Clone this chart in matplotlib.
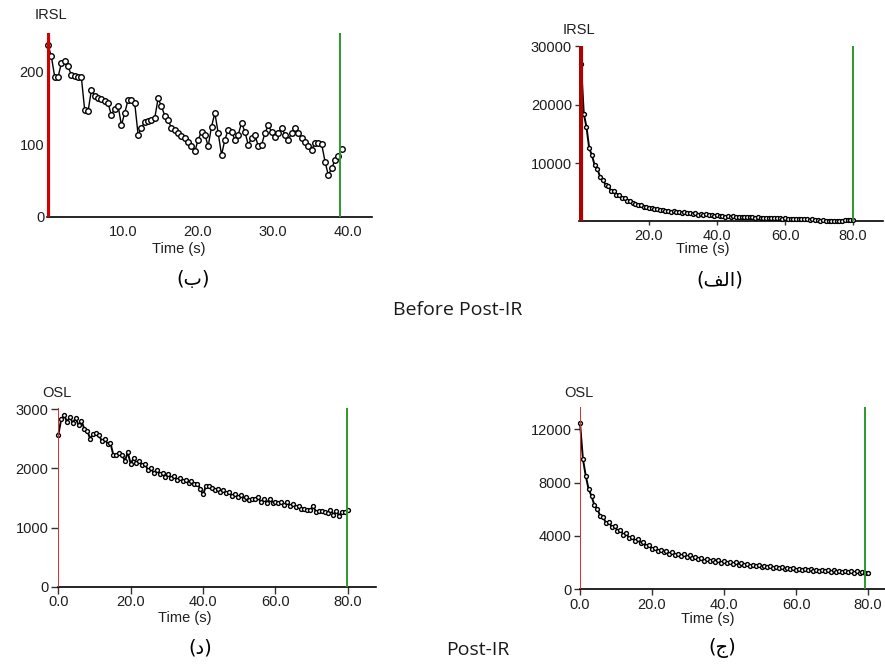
import matplotlib
matplotlib.use("Agg")
import matplotlib.pyplot as plt
import numpy as np

plt.rcParams["font.family"] = ["Liberation Sans", "DejaVu Sans"]

# IRSL before post-IR, short shine (b)
t_step_b = 0.445
irsl_b = [237, 221, 193, 192, 211, 215, 207, 195, 194, 193,
          192, 147, 145, 174, 166, 163, 162, 160, 156, 140,
          149, 153, 126, 143, 161, 161, 156, 113, 122, 131,
          132, 133, 136, 163, 152, 139, 133, 122, 120, 115,
          111, 109, 103, 97, 90, 106, 117, 113, 97, 124,
          143, 115, 85, 106, 120, 117, 106, 113, 129, 117,
          99, 108, 113, 97, 99, 115, 126, 117, 110, 115,
          122, 113, 106, 115, 122, 115, 108, 103, 97, 92,
          102, 101, 100, 76, 57, 67, 78, 83, 93]

# long shines, 0.8 s channels
t_step = 0.8
irsl_a = [27000, 18500, 16200, 12600, 11400, 9700, 9100, 7700, 7200, 6400,
          6200, 5350, 5250, 4650, 4700, 4050, 4050, 3550, 3550, 3250,
          3150, 2850, 2850, 2600, 2600, 2450, 2450, 2200, 2250, 2100,
          2100, 1950, 1950, 1800, 1850, 1650, 1800, 1600, 1650, 1550,
          1550, 1400, 1500, 1300, 1450, 1250, 1350, 1180, 1250, 1100,
          1200, 1000, 1120, 950, 1050, 900, 1000, 860, 950, 830,
          900, 950, 830, 880, 760, 820, 740, 780, 700, 740,
          660, 720, 630, 680, 590, 650, 560, 610, 540, 580,
          500, 560, 470, 540, 450, 480, 360, 360, 280, 300,
          240, 270, 230, 260, 250, 280, 260, 320, 290, 350,
          380]

osl_d = [2570, 2830, 2900, 2790, 2870, 2770, 2850, 2730, 2800, 2670,
         2640, 2500, 2580, 2600, 2560, 2470, 2500, 2420, 2430, 2230,
         2220, 2260, 2230, 2130, 2270, 2080, 2170, 2100, 2120, 2050,
         2070, 1970, 2000, 1920, 1980, 1900, 1920, 1850, 1900, 1830,
         1880, 1810, 1830, 1780, 1810, 1760, 1780, 1730, 1740, 1660,
         1560, 1700, 1700, 1670, 1640, 1660, 1600, 1630, 1580, 1600,
         1540, 1570, 1520, 1550, 1480, 1510, 1460, 1490, 1480, 1510,
         1430, 1490, 1420, 1480, 1410, 1440, 1420, 1430, 1380, 1440,
         1370, 1400, 1350, 1370, 1310, 1320, 1300, 1300, 1360, 1270,
         1280, 1280, 1270, 1250, 1300, 1220, 1280, 1200, 1270, 1260,
         1300]

osl_c = [12500, 9800, 8500, 7500, 7000, 6300, 6050, 5500, 5400, 5000,
         5050, 4700, 4750, 4400, 4480, 4100, 4200, 3850, 3950, 3650,
         3750, 3450, 3550, 3220, 3300, 3000, 3100, 2880, 2980, 2780,
         2880, 2680, 2780, 2600, 2680, 2520, 2620, 2430, 2540, 2350,
         2420, 2250, 2330, 2150, 2280, 2100, 2230, 2050, 2180, 2000,
         2120, 1950, 2060, 1900, 2020, 1850, 1950, 1800, 1920, 1760,
         1860, 1720, 1820, 1700, 1780, 1650, 1750, 1610, 1700, 1580,
         1660, 1530, 1630, 1500, 1600, 1480, 1560, 1440, 1530, 1420,
         1500, 1400, 1480, 1370, 1460, 1350, 1440, 1320, 1420, 1300,
         1400, 1280, 1380, 1270, 1360, 1250, 1340, 1230, 1320, 1220,
         1250]

# signal / background limits (s)
green_at = {"b": 39.0, "a": 80.0, "d": 79.7, "c": 79.2}

W, H = 885, 668
fig = plt.figure(figsize=(W / 100, H / 100), dpi=100)


def box(l, t, r, b):
    return [l / W, 1 - b / H, (r - l) / W, (b - t) / H]


def ptext(x, y, s, **kw):
    fig.text(x / W, 1 - y / H, s, ha="center", va="center", **kw)


tick_font = dict(family="Liberation Sans", size=10.5, color="#1e1e1e")


def panel(rect, t, y, xlim, ylim, xticks, xlabels, yticks, ylabels,
          green, red_color, red_lw, ms, lw, tick_len):
    ax = fig.add_axes(rect)
    ax.plot(t, y, color="black", lw=lw, marker="o", ms=ms,
            mfc="white", mec="black", mew=1.0, zorder=3, clip_on=False)
    ax.axvline(0, color=red_color, lw=red_lw, zorder=4)
    ax.axvline(green, color="#2a9a2a", lw=1.4, zorder=4)
    ax.set_xlim(*xlim)
    ax.set_ylim(*ylim)
    for s in ["top", "right", "left"]:
        ax.spines[s].set_visible(False)
    ax.spines["bottom"].set_linewidth(1.2)
    ax.set_xticks(xticks)
    ax.set_xticklabels(xlabels, **tick_font)
    ax.set_yticks(yticks)
    ax.set_yticklabels(ylabels, **tick_font)
    ax.tick_params(axis="both", length=tick_len, width=1, color="#333333")
    ax.tick_params(axis="x", pad=max(6 - tick_len, 1))
    ax.tick_params(axis="y", pad=2)
    ax.patch.set_alpha(0)
    return ax


t_b = np.arange(len(irsl_b)) * t_step_b
t_a = np.arange(len(irsl_a)) * t_step
t_d = np.arange(len(osl_d)) * t_step
t_c = np.arange(len(osl_c)) * t_step

ax_b = panel(box(47, 33, 372, 216.7), t_b, irsl_b, (-0.13, 43.2), (0, 253),
             [10, 20, 30, 40], ["10.0", "20.0", "30.0", "40.0"],
             [0, 100, 200], ["0", "100", "200"],
             green_at["b"], "#d40000", 3.0, 4, 1.0, 0)
ax_a = panel(box(579, 46, 883, 221), t_a, irsl_a, (-0.6, 88.8), (200, 30000),
             [20, 40, 60, 80], ["20.0", "40.0", "60.0", "80.0"],
             [10000, 20000, 30000], ["10000", "20000", "30000"],
             green_at["a"], "#b00000", 3.0, 2.8, 1.4, 3)
ax_d = panel(box(58.3, 407.7, 376, 586.7), t_d, osl_d, (0, 87.8), (0, 3027),
             [0, 20, 40, 60, 80], ["0.0", "20.0", "40.0", "60.0", "80.0"],
             [0, 1000, 2000, 3000], ["0", "1000", "2000", "3000"],
             green_at["d"], "#e8262a", 1.4, 2.8, 1.4, 5)
ax_c = panel(box(580, 407.3, 897, 589.3), t_c, osl_c, (0, 88), (0, 13650),
             [0, 20, 40, 60, 80], ["0.0", "20.0", "40.0", "60.0", "80.0"],
             [0, 4000, 8000, 12000], ["0", "4000", "8000", "12000"],
             green_at["c"], "#e8262a", 1.4, 2.8, 1.4, 4)

# axis titles
ptext(51, 15, "IRSL", **tick_font)
ptext(579, 30, "IRSL", **tick_font)
ptext(57, 393, "OSL", **tick_font)
ptext(579, 393, "OSL", **tick_font)
ptext(179, 249, "Time (s)", **tick_font)
ptext(703, 249, "Time (s)", **tick_font)
ptext(185, 618, "Time (s)", **tick_font)
ptext(708, 619, "Time (s)", **tick_font)

# captions (Arabic letters; alef-lam-feh given in visual order with joining forms)
cap_font = dict(family="DejaVu Sans", size=14, color="black")
ptext(193, 280, "(\u0628)", **cap_font)
ptext(720, 280, "(\ufed2\ufedf\ufe8d)", **cap_font)
ptext(200, 648, "(\u062f)", **cap_font)
ptext(722, 648, "(\u062c)", **cap_font)

title_font = dict(family="Open Sans", size=14, color="#1a1a1a")
ptext(458, 310, "Before Post-IR", **title_font)
ptext(478, 650, "Post-IR", **title_font)

fig.savefig("out.png", dpi=100)
